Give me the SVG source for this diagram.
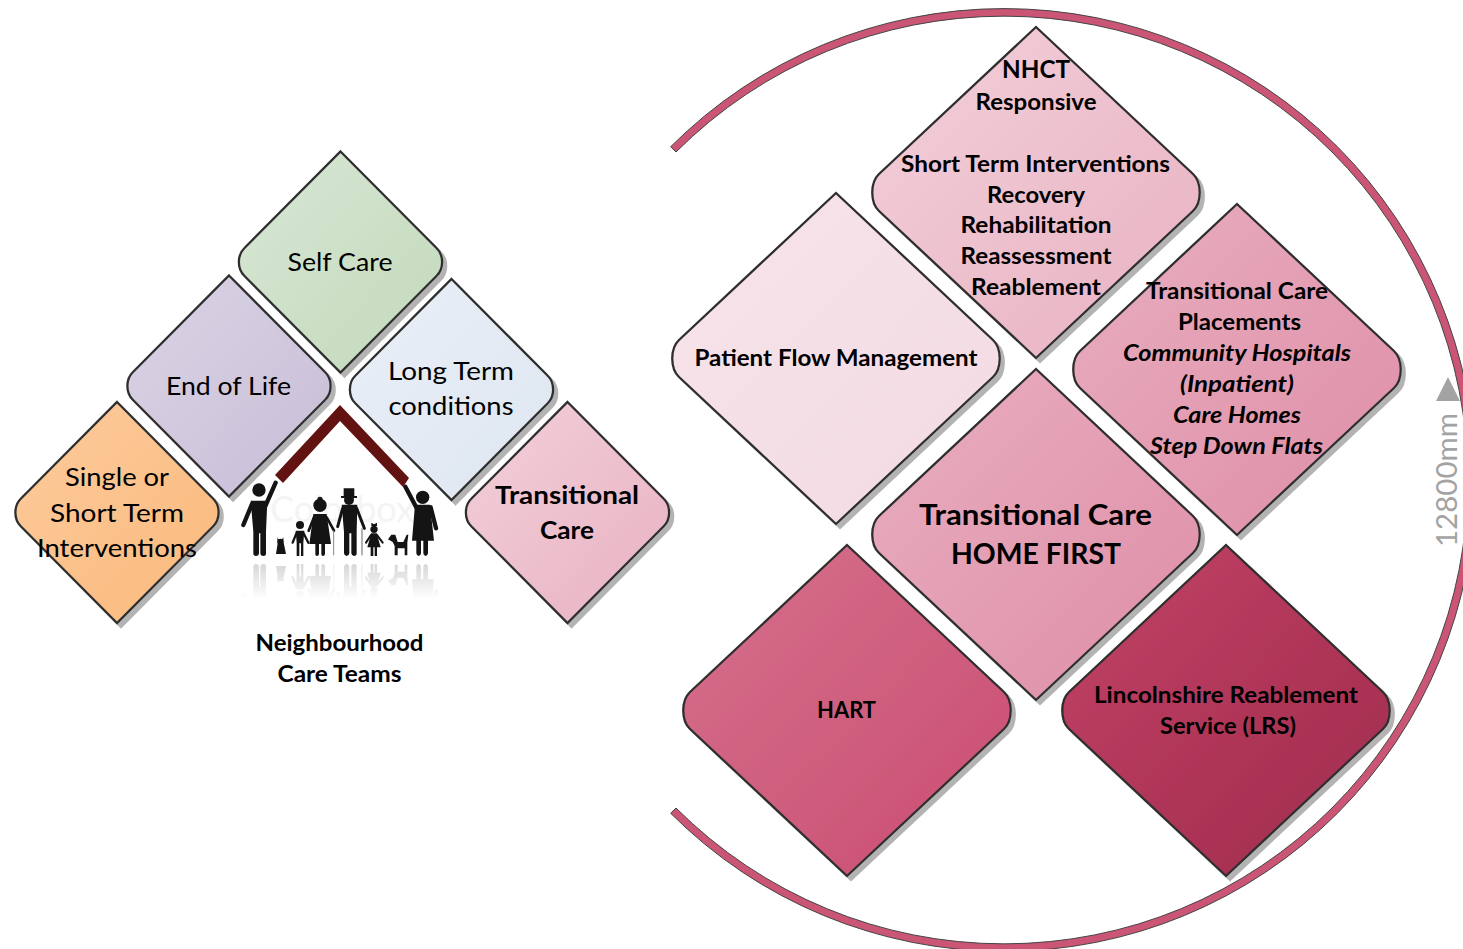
<svg xmlns="http://www.w3.org/2000/svg" width="1463" height="949" viewBox="0 0 1463 949">
<style>
text{font-family:"Lato","Carlito","Liberation Sans",sans-serif;fill:#000;text-anchor:middle}
.d{stroke:#2f2f2f;stroke-width:2.3;filter:url(#sh)}
.n{font-size:25.5px}
.b{font-size:23.5px;font-weight:700}
.bi{font-size:23.5px;font-weight:700;font-style:italic}
.b2{font-size:25.5px;font-weight:700}
.l{font-size:29px;font-weight:700}
.s{font-size:22.5px;font-weight:700}
.k{fill:#141414;stroke:none}
.ks{stroke:#141414;fill:none;stroke-linecap:round}
</style>
<defs>
<filter id="sh" x="-5%" y="-5%" width="112%" height="112%"><feDropShadow dx="4" dy="4" stdDeviation=".7" flood-color="#999" flood-opacity=".75"/></filter>
<clipPath id="refl"><rect x="235" y="557" width="210" height="42"/></clipPath>
<path id="big" d="M0 -165.5L157 -18.5C166 -10 166 10 157 18.5L0 165.5L-157 18.5C-166 10 -166 -10 -157 -18.5Z"/>
<path id="small" d="M0 -110.5L96 -14C103.5 -7 103.5 7 96 14L0 110.5L-96 14C-103.5 7 -103.5 -7 -96 -14Z"/>
<linearGradient id="g1" x1="0" y1="0" x2="1" y2="1"><stop offset="0" stop-color="#d8e7d5"/><stop offset="1" stop-color="#c2d9ba"/></linearGradient>
<linearGradient id="g2" x1="0" y1="0" x2="1" y2="1"><stop offset="0" stop-color="#dbd3e3"/><stop offset="1" stop-color="#c7bed8"/></linearGradient>
<linearGradient id="g3" x1="0" y1="0" x2="1" y2="1"><stop offset="0" stop-color="#e9eff7"/><stop offset="1" stop-color="#dee6f1"/></linearGradient>
<linearGradient id="g4" x1="0" y1="0" x2="1" y2="1"><stop offset="0" stop-color="#fdcb9e"/><stop offset="1" stop-color="#fab97a"/></linearGradient>
<linearGradient id="g5" x1="0" y1="0" x2="1" y2="1"><stop offset="0" stop-color="#f3d0da"/><stop offset="1" stop-color="#e8b1c2"/></linearGradient>
<linearGradient id="g6" x1="0" y1="0" x2="1" y2="1"><stop offset="0" stop-color="#f7e4ea"/><stop offset="1" stop-color="#f3dae2"/></linearGradient>
<linearGradient id="g7" x1="0" y1="0" x2="1" y2="1"><stop offset="0" stop-color="#e9aec0"/><stop offset="1" stop-color="#de8ea6"/></linearGradient>
<linearGradient id="g8" x1="0" y1="0" x2="1" y2="1"><stop offset="0" stop-color="#d5718c"/><stop offset="1" stop-color="#ca4d71"/></linearGradient>
<linearGradient id="g9" x1="0" y1="0" x2="1" y2="1"><stop offset="0" stop-color="#c24266"/><stop offset="1" stop-color="#9f2b4c"/></linearGradient>
<linearGradient id="fade" x1="0" y1="0" x2="0" y2="1"><stop offset="0" stop-color="#fff" stop-opacity="0"/><stop offset="1" stop-color="#fff"/></linearGradient>
<g id="family" transform="translate(230 400) scale(.33333)">
<circle class="k" cx="87" cy="270" r="20"/>
<path class="ks" stroke-width="13" d="M106 318L137 248M66 312L40 375"/>
<path class="k" d="M62 302H112L108 395V462Q108 468 100 468Q92 468 91 460V400H87V460Q86 468 78 468Q70 468 70 460V395Z"/>
<circle class="k" cx="151" cy="425" r="9"/><path class="k" d="M142 412L147 420H155L160 412L161 428L168 462H138L143 430Z"/>
<circle class="k" cx="210" cy="375" r="12"/>
<path class="ks" stroke-width="7" d="M200 398L188 428M220 398L235 428"/>
<path class="k" d="M197 392H223L220 428V468H213V430H208V468H200V428Z"/>
<circle class="k" cx="270" cy="316" r="20"/><circle class="k" cx="270" cy="298" r="8"/>
<path class="ks" stroke-width="8" d="M252 352L236 392M290 352L312 392"/>
<path class="k" d="M250 342H290L303 432H285V462Q284 468 279 468Q274 468 274 462V432H267V462Q266 468 261 468Q256 468 256 462V432H238Z"/>
<path d="M311 392V466" stroke="#888" stroke-width="3" fill="none"/>
<path class="k" d="M341 265H373V288H381V294H333V288H341Z"/><circle class="k" cx="357" cy="300" r="15"/>
<path class="ks" stroke-width="9" d="M338 325L323 380M380 325L403 385"/>
<path class="k" d="M335 314H382L380 395V462Q379 468 372 468Q365 468 364 460V400H358V460Q357 468 350 468Q343 468 342 460V395Z"/>
<path d="M396 385V466" stroke="#666" stroke-width="3" fill="none"/>
<circle class="k" cx="432" cy="388" r="11"/><path class="k" d="M424 368L432 373L441 368V378H424Z"/>
<path class="ks" stroke-width="6" d="M424 404L408 428M440 404L458 428"/>
<path class="k" d="M424 400H440L452 442H441V468H434V442H430V468H422V442H412Z"/>
<path class="k" d="M474 418L484 404H496L503 426H520L530 404H535L532 428V466H524V445H503V466H494V438L488 426Z"/>
<circle class="k" cx="578" cy="292" r="20"/>
<path class="ks" stroke-width="13" d="M562 328L526 260M602 322L618 385"/>
<path class="k" d="M555 314H600L612 422H594V460Q593 468 587 468Q581 468 580 460V422H573V460Q572 468 566 468Q560 468 559 460V422H546Z"/>
</g>
</defs>
<g id="ring"><path d="M670.7 146.7A471.4 471.4 0 1 1 670.7 813.3L676 808A464 464 0 1 0 676 152Z" fill="#cb5575" stroke="#444" stroke-width="1"/></g>
<g id="neighbourhood-figure">
<text x="342" y="522" style="font-size:36px;fill:#f4f4f4">Colorbox</text>
<g clip-path="url(#refl)"><use href="#family" transform="translate(0 1120) scale(1 -1)" opacity=".2"/></g>
<rect x="235" y="557" width="210" height="42" fill="url(#fade)"/>
<use href="#family"/>
<polygon points="340,405 409,478 403,487 340,421 283,483 275,475" fill="#621210"/>
</g>
<g id="self-care"><use href="#small" x="340.5" y="262" class="d" fill="url(#g1)"/><text class="n" x="340" y="271" textLength="105" lengthAdjust="spacingAndGlyphs">Self Care</text></g>
<g id="end-of-life"><use href="#small" x="229" y="386" class="d" fill="url(#g2)"/><text class="n" x="228.5" y="395" textLength="125" lengthAdjust="spacingAndGlyphs">End of Life</text></g>
<g id="long-term"><use href="#small" x="451.5" y="389.5" class="d" fill="url(#g3)"/><text class="n" x="451" y="380" textLength="126" lengthAdjust="spacingAndGlyphs">Long Term</text><text class="n" x="451" y="415" textLength="125" lengthAdjust="spacingAndGlyphs">conditions</text></g>
<g id="single-short"><use href="#small" x="117" y="512.5" class="d" fill="url(#g4)"/><text class="n" x="117" y="486" textLength="104" lengthAdjust="spacingAndGlyphs">Single or</text><text class="n" x="117" y="522" textLength="134" lengthAdjust="spacingAndGlyphs">Short Term</text><text class="n" x="117" y="557" textLength="160" lengthAdjust="spacingAndGlyphs">Interventions</text></g>
<g id="transitional-small"><use href="#small" x="567.5" y="512.5" class="d" fill="url(#g5)"/><text class="b2" x="567" y="504" textLength="144" lengthAdjust="spacingAndGlyphs">Transitional</text><text class="b2" x="567" y="539" textLength="54" lengthAdjust="spacingAndGlyphs">Care</text></g>
<g id="neighbourhood-label"><text class="s" x="339.5" y="651" textLength="168" lengthAdjust="spacingAndGlyphs">Neighbourhood</text><text class="s" x="339.5" y="682" textLength="124" lengthAdjust="spacingAndGlyphs">Care Teams</text></g>
<g id="patient-flow"><use href="#big" x="836" y="358.5" class="d" fill="url(#g6)"/><text class="b" x="836" y="366" textLength="283" lengthAdjust="spacingAndGlyphs">Patient Flow Management</text></g>
<g id="nhct"><use href="#big" x="1036" y="192.5" class="d" fill="url(#g5)"/>
<text class="b2" x="1036" y="78" textLength="68" lengthAdjust="spacingAndGlyphs">NHCT</text>
<text class="b" x="1036" y="110" textLength="121" lengthAdjust="spacingAndGlyphs">Responsive</text>
<text class="b" x="1035.5" y="172" textLength="269" lengthAdjust="spacingAndGlyphs">Short Term Interventions</text>
<text class="b" x="1036" y="203" textLength="98" lengthAdjust="spacingAndGlyphs">Recovery</text>
<text class="b" x="1036" y="233" textLength="151" lengthAdjust="spacingAndGlyphs">Rehabilitation</text>
<text class="b" x="1036" y="264" textLength="151" lengthAdjust="spacingAndGlyphs">Reassessment</text>
<text class="b" x="1036" y="295" textLength="130" lengthAdjust="spacingAndGlyphs">Reablement</text></g>
<g id="placements"><use href="#big" x="1237" y="369.5" class="d" fill="url(#g7)"/>
<text class="b" x="1237" y="299" textLength="182" lengthAdjust="spacingAndGlyphs">Transitional Care</text>
<text class="b" x="1239.5" y="330" textLength="123" lengthAdjust="spacingAndGlyphs">Placements</text>
<text class="bi" x="1237" y="361" textLength="228" lengthAdjust="spacingAndGlyphs">Community Hospitals</text>
<text class="bi" x="1237" y="392" textLength="114" lengthAdjust="spacingAndGlyphs">(Inpatient)</text>
<text class="bi" x="1237" y="423" textLength="128" lengthAdjust="spacingAndGlyphs">Care Homes</text>
<text class="bi" x="1236.5" y="454" textLength="173" lengthAdjust="spacingAndGlyphs">Step Down Flats</text></g>
<g id="home-first"><use href="#big" x="1036" y="534.5" class="d" fill="url(#g7)"/><text class="l" x="1035.5" y="525" textLength="233" lengthAdjust="spacingAndGlyphs">Transitional Care</text><text class="l" x="1036" y="564" textLength="170" lengthAdjust="spacingAndGlyphs">HOME FIRST</text></g>
<g id="hart"><use href="#big" x="847" y="710.5" class="d" fill="url(#g8)"/><text class="b" x="846.5" y="718" textLength="59" lengthAdjust="spacingAndGlyphs">HART</text></g>
<g id="lrs"><use href="#big" x="1226" y="710.5" class="d" fill="url(#g9)"/><text class="b" x="1226" y="703" textLength="264" lengthAdjust="spacingAndGlyphs">Lincolnshire Reablement</text><text class="b" x="1228" y="734" textLength="136" lengthAdjust="spacingAndGlyphs">Service (LRS)</text></g>
<g id="dimension"><polygon points="1448,377 1460,401 1436,401" fill="#a3a3a3"/><text transform="translate(1457 480) rotate(-90)" style="font-size:29px;fill:#a3a3a3" textLength="134" lengthAdjust="spacingAndGlyphs">12800mm</text></g>
</svg>
